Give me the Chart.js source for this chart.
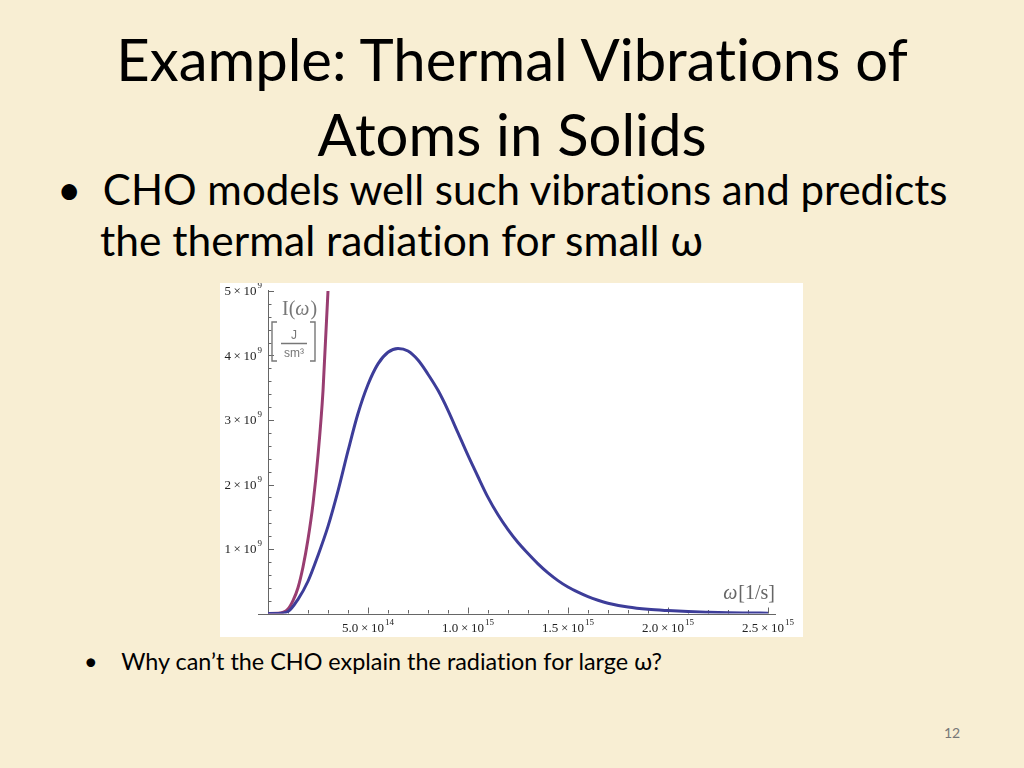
<!DOCTYPE html>
<html>
<head>
<meta charset="utf-8">
<script src="https://cdn.jsdelivr.net/npm/chart.js@4"></script>
<style>
  html, body { margin: 0; padding: 0; }
  body { width: 1024px; height: 768px; background: #f8eed3; position: relative; overflow: hidden; font-family: Lato, "Open Sans", sans-serif; font-variant-ligatures: none; }
  .t { position: absolute; white-space: nowrap; color: #000; }
  #title1 { left: 0; width: 1024px; text-align: center; top: 24px; font-size: 58px; }
  #title2 { left: 0; width: 1024px; text-align: center; top: 99px; font-size: 58px; }
  #b1 { left: 57px; top: 164px; font-size: 42px; }
  #b2 { left: 100px; top: 214px; font-size: 42.5px; }
  #b3 { left: 84px; top: 647px; font-size: 23.4px; }
  #page { left: 944px; top: 724px; font-size: 14px; color: #777; }
  #box { position: absolute; left: 220px; top: 283px; width: 583px; height: 354px; background: #fff; }
</style>
</head>
<body>
<div class="t" id="title1">Example: Thermal Vibrations of</div>
<div class="t" id="title2">Atoms in Solids</div>
<div class="t" id="b1">•&nbsp;&nbsp;CHO models well such vibrations and predicts</div>
<div class="t" id="b2">the thermal radiation for small ω</div>
<div class="t" id="b3">•&nbsp;&nbsp;&nbsp;&nbsp;Why can’t the CHO explain the radiation for large ω?</div>
<div class="t" id="page">12</div>
<div id="box"><canvas id="myChart" width="583" height="354"></canvas></div>
<script>
// blue curve (Planck)
const omega = [0, 0.5e14, 1.0e14, 1.5e14, 2.0e14, 2.5e14, 3.0e14, 3.5e14, 4.0e14, 4.5e14,
  5.0e14, 5.5e14, 6.0e14, 6.5e14, 7.0e14, 7.5e14, 8.0e14, 8.5e14, 9.0e14, 9.5e14,
  1.0e15, 1.05e15, 1.1e15, 1.15e15, 1.2e15, 1.25e15, 1.3e15, 1.35e15, 1.4e15, 1.45e15,
  1.5e15, 1.55e15, 1.6e15, 1.65e15, 1.7e15, 1.8e15, 1.9e15, 2.0e15, 2.1e15, 2.2e15,
  2.3e15, 2.4e15, 2.5e15];
const planck = [0, 0.001e9, 0.03e9, 0.22e9, 0.50e9, 0.90e9, 1.35e9, 1.90e9, 2.52e9, 3.10e9,
  3.55e9, 3.87e9, 4.05e9, 4.11e9, 4.07e9, 3.93e9, 3.71e9, 3.46e9, 3.15e9, 2.80e9,
  2.45e9, 2.12e9, 1.80e9, 1.53e9, 1.30e9, 1.10e9, 0.93e9, 0.77e9, 0.63e9, 0.51e9,
  0.41e9, 0.33e9, 0.26e9, 0.205e9, 0.16e9, 0.10e9, 0.065e9, 0.045e9, 0.03e9, 0.02e9,
  0.012e9, 0.008e9, 0.005e9];

// red curve (classical oscillator)
const omegaCHO = [0, 0.5e14, 1.0e14, 1.25e14, 1.5e14, 1.75e14, 2.0e14, 2.25e14, 2.5e14, 2.75e14, 3.0e14, 3.1e14];
const classical = [0, 0.002e9, 0.07e9, 0.2e9, 0.4e9, 0.72e9, 1.15e9, 1.7e9, 2.45e9, 3.45e9, 5.0e9, 5.8e9];

// tick labels: mantissa and power of ten
const xTicks = [5e14, 1e15, 1.5e15, 2e15, 2.5e15];
const xTickMant = ['5.0', '1.0', '1.5', '2.0', '2.5'];
const xTickExp = ['14', '15', '15', '15', '15'];
const yTicks = [1e9, 2e9, 3e9, 4e9, 5e9];
const yTickMant = ['1', '2', '3', '4', '5'];
const yTickExp = ['9', '9', '9', '9', '9'];

const xMax = 2.54e15, yMax = 5e9;
const serif = '"Liberation Serif", "DejaVu Serif", serif';

const toPoints = (xs, ys) => xs.map((v, i) => ({ x: v, y: ys[i] }));

// "m × 10^e" label, anchored at (px, py) by its middle
function sciLabel(ctx, mant, exp, px, py, align) {
  ctx.font = '13px ' + serif;
  const main = mant + '\u2009×\u200910';
  const w1 = ctx.measureText(main).width;
  ctx.font = '9px ' + serif;
  const w2 = ctx.measureText(exp).width + 1;
  const left = align === 'right' ? px - w1 - w2 : px - (w1 + w2) / 2;
  ctx.textBaseline = 'middle';
  ctx.textAlign = 'left';
  ctx.font = '13px ' + serif;
  ctx.fillText(main, left, py);
  ctx.font = '9px ' + serif;
  ctx.fillText(exp, left + w1 + 1, py - 6);
}

const mmaAxes = {
  id: 'mmaAxes',
  beforeDatasetsDraw(chart) {
    const { ctx, scales: { x, y } } = chart;
    const x0 = x.getPixelForValue(0);
    const y0 = y.getPixelForValue(0);
    ctx.save();
    ctx.strokeStyle = '#666';
    ctx.lineWidth = 1;
    ctx.beginPath();
    ctx.moveTo(x0 - 10, Math.round(y0) + 0.5);
    ctx.lineTo(x.getPixelForValue(xMax), Math.round(y0) + 0.5);
    ctx.moveTo(Math.round(x0) + 0.5, y.getPixelForValue(yMax) - 1);
    ctx.lineTo(Math.round(x0) + 0.5, y0);
    // ticks pointing into the plot
    for (let k = 1; k <= 25; k++) {
      const px = Math.round(x.getPixelForValue(k * 1e14)) + 0.5;
      const len = k % 5 === 0 ? 6 : 3.5;
      ctx.moveTo(px, y0);
      ctx.lineTo(px, y0 - len);
    }
    for (let k = 1; k <= 25; k++) {
      const py = Math.round(y.getPixelForValue(k * 2e8)) + 0.5;
      const len = k % 5 === 0 ? 6 : 3.5;
      ctx.moveTo(x0, py);
      ctx.lineTo(x0 + len, py);
    }
    ctx.stroke();

    ctx.fillStyle = '#222';
    xTicks.forEach((v, i) => sciLabel(ctx, xTickMant[i], xTickExp[i], x.getPixelForValue(v), y0 + 15, 'center'));
    yTicks.forEach((v, i) => sciLabel(ctx, yTickMant[i], yTickExp[i], x0 - 6, y.getPixelForValue(v) + 1, 'right'));
    ctx.restore();
  },
  afterDraw(chart) {
    const { ctx, scales: { x, y } } = chart;
    const x0 = x.getPixelForValue(0);
    ctx.save();
    ctx.fillStyle = '#777';
    ctx.strokeStyle = '#777';
    ctx.textBaseline = 'alphabetic';
    // I(ω)
    let px = x0 + 14, py = y.getPixelForValue(yMax) + 24;
    ctx.font = '20px ' + serif;
    ctx.fillText('I(', px, py); px += ctx.measureText('I(').width;
    ctx.font = 'italic 20px ' + serif;
    ctx.fillText('ω', px, py); px += ctx.measureText('ω').width + 1;
    ctx.font = '20px ' + serif;
    ctx.fillText(')', px, py);
    // [ J / sm³ ]
    const bx = x0 + 4, top = py + 7, bot = py + 46;
    ctx.lineWidth = 1.4;
    ctx.beginPath();
    ctx.moveTo(bx + 5, top); ctx.lineTo(bx, top); ctx.lineTo(bx, bot); ctx.lineTo(bx + 5, bot);
    ctx.moveTo(bx + 38, top); ctx.lineTo(bx + 43, top); ctx.lineTo(bx + 43, bot); ctx.lineTo(bx + 38, bot);
    ctx.moveTo(bx + 9, top + 21.5); ctx.lineTo(bx + 35, top + 21.5);
    ctx.stroke();
    ctx.textAlign = 'center';
    ctx.font = '12px "Liberation Sans", sans-serif';
    ctx.fillText('J', bx + 22, top + 17);
    ctx.fillText('sm³', bx + 22, top + 35);
    // ω[1/s]
    ctx.textAlign = 'right';
    ctx.fillStyle = '#666';
    const ex = x.getPixelForValue(xMax) - 1, ey = y.getPixelForValue(0) - 15;
    ctx.font = '20px ' + serif;
    ctx.fillText('[1/s]', ex, ey);
    const w = ctx.measureText('[1/s]').width;
    ctx.font = 'italic 20px ' + serif;
    ctx.fillText('ω', ex - w - 1, ey);
    ctx.restore();
  }
};

const ctx = document.getElementById('myChart').getContext('2d');
const chart = new Chart(ctx, {
  type: 'line',
  data: {
    datasets: [{
      label: 'Planck',
      data: toPoints(omega, planck),
      borderColor: '#3d3d99',
      borderWidth: 3,
      pointRadius: 0,
      cubicInterpolationMode: 'monotone',
    }, {
      label: 'CHO',
      data: toPoints(omegaCHO, classical),
      borderColor: '#993d71',
      borderWidth: 3,
      pointRadius: 0,
      cubicInterpolationMode: 'monotone',
    }]
  },
  options: {
    responsive: false,
    animation: false,
    layout: { padding: { top: 8, right: 27, left: 0, bottom: 0 } },
    plugins: { legend: { display: false }, tooltip: { enabled: false } },
    scales: {
      x: {
        type: 'linear',
        min: 0,
        max: xMax,
        afterFit: (s) => { s.height = 23.5; },
        grid: { display: false, drawTicks: false },
        border: { display: false },
        ticks: { display: false }
      },
      y: {
        min: 0,
        max: yMax,
        afterFit: (s) => { s.width = 48; },
        grid: { display: false, drawTicks: false },
        border: { display: false },
        ticks: { display: false }
      }
    }
  },
  plugins: [mmaAxes]
});
</script>
</body>
</html>
